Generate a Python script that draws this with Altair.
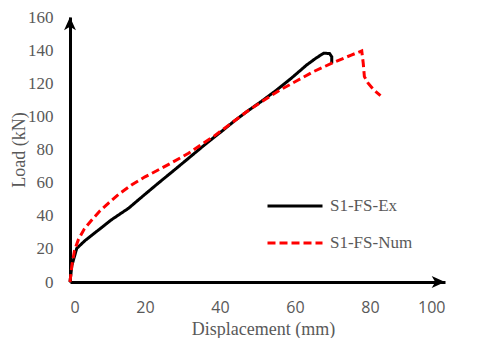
import altair as alt
import pandas as pd

ex_x = [0, 0.5, 1.8, 4, 7.6, 11, 15.6, 19.5, 23.5, 27.5, 31.6, 36, 40.9, 44, 47.1, 51, 55.1, 59, 63.1, 65.5, 67.6, 69.2, 69.8, 69.8]
ex_y = [0, 10, 20.3, 25, 31.4, 37.5, 44.5, 52, 59.6, 67, 74.7, 83, 91.8, 97.5, 102.8, 109, 115.9, 123, 131, 135, 138.1, 138, 136, 132]

num_x = [0, 0.5, 1.2, 2.2, 3.8, 5.8, 8, 10.2, 13, 16.4, 20, 23.5, 27.5, 31.6, 35, 38.2, 42.5, 47.1, 51.5, 56, 60.5, 64.9, 70.7, 75, 77.8, 78.2, 78.5, 79.5, 81, 82.8]
num_y = [0, 10, 19, 25.4, 32, 37.4, 43, 47.5, 53, 58.6, 63.5, 67.6, 72.5, 77.7, 83, 87.7, 95, 102.8, 109.5, 115.9, 121.5, 127, 133, 137, 139.5, 132, 124, 120, 116, 112.5]

x_ticks = [0, 20, 40, 60, 80, 100]
y_ticks = [0, 20, 40, 60, 80, 100, 120, 140, 160]

series = ["S1-FS-Ex", "S1-FS-Num"]

rows = []
for i, (x, y) in enumerate(zip(ex_x, ex_y)):
    rows.append({"d": x, "load": y, "s": series[0], "o": i})
for i, (x, y) in enumerate(zip(num_x, num_y)):
    rows.append({"d": x, "load": y, "s": series[1], "o": i})
df = pd.DataFrame(rows)

serif = "Liberation Serif"
gray = "#595959"

xs = alt.Scale(domain=[0, 100], nice=False)
ys = alt.Scale(domain=[0, 160], nice=False)

x_axis = alt.Axis(
    title="Displacement (mm)", values=x_ticks, grid=False, ticks=False,
    domainColor="black", domainWidth=3, labelFont="Open Sans", labelFontSize=16,
    labelColor=gray, labelPadding=17, labelOverlap=False, titleFont=serif, titleFontSize=18,
    titleFontWeight="normal", titleColor=gray, titlePadding=5, titleX=193)
y_axis = alt.Axis(
    title="Load (kN)", values=y_ticks, grid=False, ticks=False,
    domainColor="black", domainWidth=3, labelFont=serif, labelFontSize=17,
    labelColor=gray, labelPadding=17, labelOverlap=False, labelFlush=False,
    titleFont=serif, titleFontSize=18,
    titleFontWeight="normal", titleColor=gray, titlePadding=-1)

lines = alt.Chart(df).mark_line(strokeWidth=3).encode(
    x=alt.X("d:Q", scale=xs, axis=x_axis),
    y=alt.Y("load:Q", scale=ys, axis=y_axis),
    color=alt.Color("s:N", scale=alt.Scale(domain=series, range=["#000000", "#FF0000"]),
                    legend=alt.Legend(title=None, orient="none", legendX=196, legendY=160,
                                      symbolType="stroke", symbolSize=3025, symbolStrokeWidth=3,
                                      labelFont=serif, labelFontSize=17, labelColor=gray,
                                      rowPadding=-11, labelOffset=6, padding=0)),
    strokeDash=alt.StrokeDash("s:N", scale=alt.Scale(domain=series, range=[[1, 0], [8, 4]]), legend=None),
    order="o:Q",
)

arrows = pd.DataFrame({"d": [0, 100], "load": [160, 0], "a": [0, 90]})
arrow_path = "M0,0 L0.85,1.9 L0,1.4 L-0.85,1.9 Z"
heads = alt.Chart(arrows).mark_point(shape=arrow_path, filled=True, color="black", opacity=1, size=196).encode(
    x=alt.X("d:Q", scale=xs, axis=x_axis), y=alt.Y("load:Q", scale=ys, axis=y_axis),
    angle=alt.Angle("a:Q", scale=None))

chart = alt.layer(lines, heads).properties(
    width=375, height=265, autosize=alt.AutoSizeParams(type="none"),
    padding={"left": 62, "top": 9, "right": 27, "bottom": 56},
).configure_view(stroke=None).configure_axis(labelOverlap=False)

chart.save("out.html", embed_options={"renderer": "svg", "actions": False})
